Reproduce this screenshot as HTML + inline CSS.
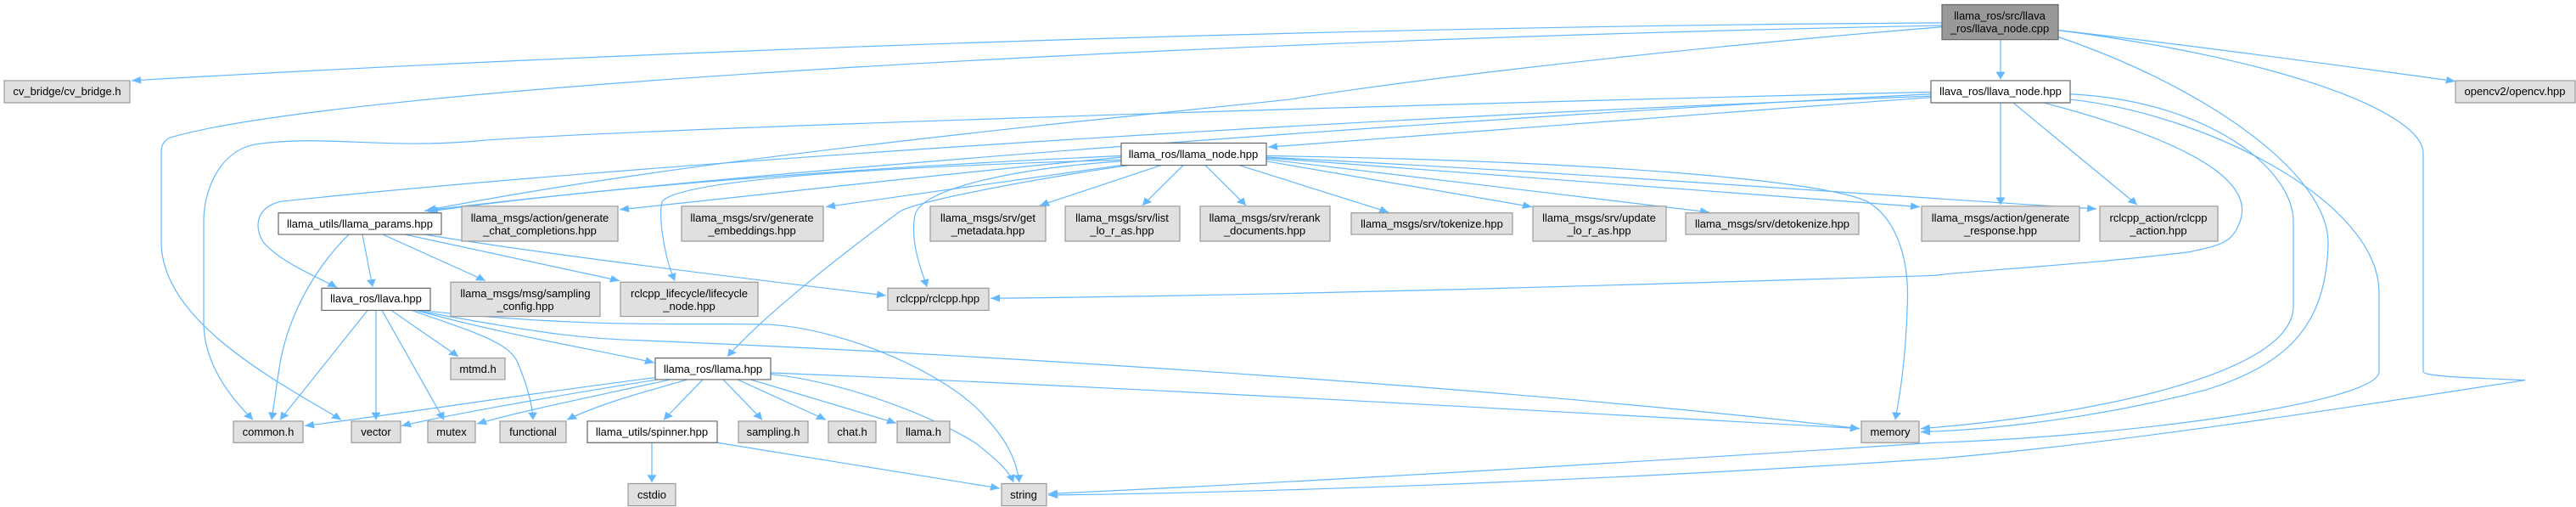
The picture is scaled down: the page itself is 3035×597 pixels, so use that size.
<!DOCTYPE html>
<html><head><meta charset="utf-8"><style>
html,body{margin:0;padding:0;background:#fff;overflow:hidden}
svg{display:block}
text{font-family:"Liberation Sans",Arial,sans-serif;font-size:13px;fill:#000;text-anchor:middle}
.e{fill:none;stroke:#63b8ff;stroke-width:1.2;marker-end:url(#a);vector-effect:non-scaling-stroke}
.g{fill:#e0e0e0;stroke:#999;stroke-width:1.2;vector-effect:non-scaling-stroke}
.w{fill:#fff;stroke:#666;stroke-width:1.2;vector-effect:non-scaling-stroke}
</style></head><body>
<svg width="3035" height="597" viewBox="0 0 3035 597" xmlns="http://www.w3.org/2000/svg">
<defs><marker id="a" markerUnits="userSpaceOnUse" markerWidth="12" markerHeight="12" refX="11" refY="6" orient="auto"><path d="M0,0.5 L11,6 L0,11.5 Z" fill="#63b8ff"/></marker></defs>
<g transform="scale(1,0.791)">
<!-- edges from root -->
<path class="e" d="M2357,59 L2357,118"/>
<path class="e" d="M2288,34 C1500,40 700,80 155,120"/>
<path class="e" d="M2288,38 C1400,60 400,130 200,205 C190,212 190,220 190,230 L190,360 C190,480 330,570 402,625"/>
<path class="e" d="M2425,45 C2600,70 2800,105 2893,121"/>
<path class="e" d="M2425,55 C2600,130 2745,260 2743,364 C2740,480 2700,540 2600,580 C2480,620 2350,640 2263,643"/>
<path class="e" d="M2425,45 C2700,90 2855,170 2855,228 L2855,553 C2855,560 2900,562 2975,566 C2800,600 2500,660 2280,683 C1900,715 1500,733 1235,737"/>
<path class="e" d="M2288,40 C1900,80 1600,130 1520,148 C1200,190 800,240 503,313"/>

<!-- llava_node.hpp -->
<path class="e" d="M2275,140 C1800,170 900,250 500,314"/>
<path class="e" d="M2275,137 C1500,160 700,195 560,210 C450,222 380,200 300,215 C260,225 240,280 240,330 L240,480 C240,540 270,590 298,625"/>
<path class="e" d="M2275,143 C1500,180 700,250 330,300 C300,310 300,340 310,360 C330,390 370,410 397,428"/>
<path class="e" d="M2275,145 C2000,170 1700,200 1494,219"/>
<path class="e" d="M2357,153 L2357,305"/>
<path class="e" d="M2372,153 L2518,305"/>
<path class="e" d="M2408,153 C2550,200 2660,260 2639,330 C2630,360 2620,364 2580,375 C2450,395 2300,405 2280,410 C1900,425 1500,440 1167,444"/>
<path class="e" d="M2439,140 C2600,150 2702,250 2702,330 L2702,456 C2702,560 2450,620 2263,638"/>
<path class="e" d="M2439,148 C2600,170 2803,300 2803,436 L2803,553 C2803,600 2500,650 2280,659 C1900,690 1500,720 1235,735"/>

<!-- llama_node.hpp -->
<path class="e" d="M1321,232 C1000,250 700,280 505,315"/>
<path class="e" d="M1321,234 C1100,260 900,290 730,312"/>
<path class="e" d="M1321,246 L973,308"/>
<path class="e" d="M1321,238 C1000,250 800,270 780,300 C775,330 785,390 795,418"/>
<path class="e" d="M1321,240 C1200,250 1085,280 1078,320 C1072,360 1085,400 1092,427"/>
<path class="e" d="M1330,246 C1200,270 1080,300 1060,315 C980,390 900,470 857,531"/>
<path class="e" d="M1368,246 L1225,306"/>
<path class="e" d="M1394,246 L1346,306"/>
<path class="e" d="M1420,246 L1468,306"/>
<path class="e" d="M1460,246 L1636,316"/>
<path class="e" d="M1492,240 L1805,308"/>
<path class="e" d="M1492,237 L2014,316"/>
<path class="e" d="M1492,235 L2262,308"/>
<path class="e" d="M1492,234 C1900,260 2200,290 2470,311"/>
<path class="e" d="M1492,232 C1900,240 2150,270 2200,300 C2240,330 2250,400 2247,460 C2245,540 2238,590 2233,625"/>

<!-- llama_params -->
<path class="e" d="M411,349 C370,400 340,470 330,540 C325,580 322,610 320,625"/>
<path class="e" d="M427,349 L439,427"/>
<path class="e" d="M451,349 L572,418"/>
<path class="e" d="M477,349 L730,418"/>
<path class="e" d="M500,349 C650,380 850,410 1044,440"/>

<!-- llava.hpp -->
<path class="e" d="M433,462 L330,625"/>
<path class="e" d="M443,462 L443,625"/>
<path class="e" d="M450,462 L523,625"/>
<path class="e" d="M461,462 L540,531"/>
<path class="e" d="M485,462 C560,495 600,510 610,540 C620,570 627,600 628,625"/>
<path class="e" d="M490,462 C600,500 700,520 771,540"/>
<path class="e" d="M490,462 C650,500 700,505 760,507 C1200,530 1800,580 2191,638"/>
<path class="e" d="M495,462 C700,490 820,480 905,483 C1000,490 1120,560 1160,620 C1190,660 1198,690 1201,718"/>

<!-- llama.hpp -->
<path class="e" d="M772,562 C600,590 450,620 359,634"/>
<path class="e" d="M775,565 C650,590 520,620 473,634"/>
<path class="e" d="M790,565 C700,590 620,610 562,631"/>
<path class="e" d="M810,565 C740,590 700,605 668,625"/>
<path class="e" d="M828,565 L782,625"/>
<path class="e" d="M852,565 L898,625"/>
<path class="e" d="M869,565 L973,625"/>
<path class="e" d="M884,565 L1056,630"/>
<path class="e" d="M908,555 C1300,575 1800,610 2191,638"/>
<path class="e" d="M908,557 C1000,570 1100,620 1150,660 C1175,685 1188,700 1194,718"/>

<!-- spinner -->
<path class="e" d="M768,659 L768,718"/>
<path class="e" d="M845,659 L1178,727"/>

<!-- nodes -->
<rect x="2288" y="7" width="137" height="52" fill="#999" stroke="#666" stroke-width="1.2" vector-effect="non-scaling-stroke"/>
<rect class="g" x="5" y="120" width="148" height="33"/>
<rect class="w" x="2275" y="120" width="164" height="33"/>
<rect class="g" x="2893" y="120" width="141" height="33"/>
<rect class="w" x="1321" y="213" width="171" height="33"/>
<rect class="w" x="328" y="317" width="192" height="32"/>
<rect class="g" x="544" y="307" width="184" height="52"/>
<rect class="g" x="803" y="307" width="167" height="52"/>
<rect class="g" x="1096" y="307" width="136" height="52"/>
<rect class="g" x="1255" y="307" width="135" height="52"/>
<rect class="g" x="1414" y="307" width="153" height="52"/>
<rect class="g" x="1592" y="317" width="190" height="32"/>
<rect class="g" x="1806" y="307" width="157" height="52"/>
<rect class="g" x="1986" y="317" width="204" height="32"/>
<rect class="g" x="2264" y="307" width="186" height="52"/>
<rect class="g" x="2474" y="307" width="139" height="52"/>
<rect class="w" x="379" y="429" width="128" height="33"/>
<rect class="g" x="531" y="420" width="176" height="51"/>
<rect class="g" x="731" y="420" width="162" height="51"/>
<rect class="g" x="1046" y="429" width="119" height="33"/>
<rect class="g" x="531" y="533" width="64" height="32"/>
<rect class="w" x="772" y="533" width="136" height="32"/>
<rect class="g" x="275" y="627" width="82" height="32"/>
<rect class="g" x="414" y="627" width="58" height="32"/>
<rect class="g" x="504" y="627" width="56" height="32"/>
<rect class="g" x="589" y="627" width="78" height="32"/>
<rect class="w" x="692" y="627" width="153" height="32"/>
<rect class="g" x="870" y="627" width="82" height="32"/>
<rect class="g" x="976" y="627" width="56" height="32"/>
<rect class="g" x="1057" y="627" width="62" height="32"/>
<rect class="g" x="2193" y="627" width="68" height="32"/>
<rect class="g" x="740" y="720" width="56" height="33"/>
<rect class="g" x="1180" y="720" width="53" height="33"/>
</g>

<text x="2356" y="23">llama_ros/src/llava</text><text x="2356" y="38">_ros/llava_node.cpp</text>
<text x="79" y="112">cv_bridge/cv_bridge.h</text>
<text x="2357" y="112">llava_ros/llava_node.hpp</text>
<text x="2963" y="112">opencv2/opencv.hpp</text>
<text x="1406" y="186">llama_ros/llama_node.hpp</text>
<text x="424" y="268">llama_utils/llama_params.hpp</text>
<text x="636" y="261">llama_msgs/action/generate</text><text x="636" y="276">_chat_completions.hpp</text>
<text x="886" y="261">llama_msgs/srv/generate</text><text x="886" y="276">_embeddings.hpp</text>
<text x="1164" y="261">llama_msgs/srv/get</text><text x="1164" y="276">_metadata.hpp</text>
<text x="1322" y="261">llama_msgs/srv/list</text><text x="1322" y="276">_lo_r_as.hpp</text>
<text x="1490" y="261">llama_msgs/srv/rerank</text><text x="1490" y="276">_documents.hpp</text>
<text x="1687" y="268">llama_msgs/srv/tokenize.hpp</text>
<text x="1884" y="261">llama_msgs/srv/update</text><text x="1884" y="276">_lo_r_as.hpp</text>
<text x="2088" y="268">llama_msgs/srv/detokenize.hpp</text>
<text x="2357" y="261">llama_msgs/action/generate</text><text x="2357" y="276">_response.hpp</text>
<text x="2543" y="261">rclcpp_action/rclcpp</text><text x="2543" y="276">_action.hpp</text>
<text x="443" y="356">llava_ros/llava.hpp</text>
<text x="619" y="350">llama_msgs/msg/sampling</text><text x="619" y="365">_config.hpp</text>
<text x="812" y="350">rclcpp_lifecycle/lifecycle</text><text x="812" y="365">_node.hpp</text>
<text x="1105" y="356">rclcpp/rclcpp.hpp</text>
<text x="563" y="439">mtmd.h</text>
<text x="840" y="439">llama_ros/llama.hpp</text>
<text x="316" y="513">common.h</text>
<text x="443" y="513">vector</text>
<text x="532" y="513">mutex</text>
<text x="628" y="513">functional</text>
<text x="768" y="513">llama_utils/spinner.hpp</text>
<text x="911" y="513">sampling.h</text>
<text x="1004" y="513">chat.h</text>
<text x="1088" y="513">llama.h</text>
<text x="2227" y="513">memory</text>
<text x="768" y="587">cstdio</text>
<text x="1206" y="587">string</text>
</svg>
</body></html>
